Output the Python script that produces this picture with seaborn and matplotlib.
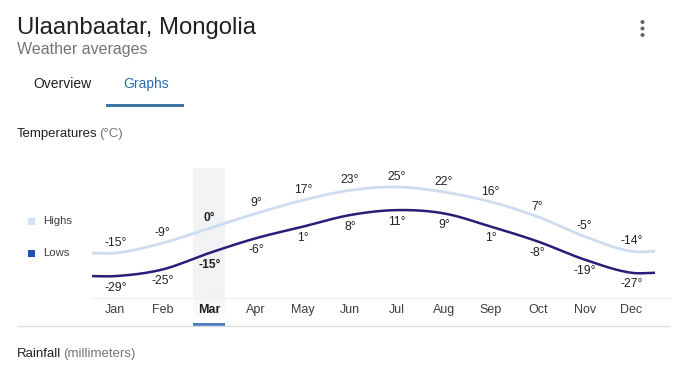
import numpy as np
import pandas as pd
import matplotlib
matplotlib.use("Agg")
import matplotlib.pyplot as plt
from matplotlib.lines import Line2D
from matplotlib.patches import Rectangle, Ellipse
import seaborn as sns

# ---- data ----
months = ["Jan", "Feb", "Mar", "Apr", "May", "Jun", "Jul", "Aug", "Sep", "Oct", "Nov", "Dec"]
highs = [-15, -9, 0, 9, 17, 23, 25, 22, 16, 7, -5, -14]
lows = [-29, -25, -15, -6, 1, 8, 11, 9, 1, -8, -19, -27]
selected = "Mar"

W, H = 686, 375
sns.set_style("white")
plt.rcParams["font.family"] = ["Liberation Sans", "DejaVu Sans"]

fig = plt.figure(figsize=(W / 100, H / 100), dpi=100)

def fx(px):
    return px / W

def fy(py):
    return 1 - py / H

# axes placement (pixels)
ax_l, ax_r, ax_t, ax_b = 92, 655, 160, 297
ax = fig.add_axes([fx(ax_l), fy(ax_b), fx(ax_r - ax_l), (ax_b - ax_t) / H])
ax.set_facecolor("none")
for s in ax.spines.values():
    s.set_visible(False)
ax.set_yticks([])

def smooth(vals):
    xs = np.array([-0.5] + list(range(len(vals))) + [len(vals) - 0.5], dtype=float)
    ys = np.array([vals[0]] + list(vals) + [vals[-1]], dtype=float)
    n = len(xs)
    m = np.zeros(n)
    for i in range(1, n - 1):
        m[i] = (ys[i + 1] - ys[i - 1]) / (xs[i + 1] - xs[i - 1])
    m[1] = (ys[2] - ys[1]) / (xs[2] - xs[1]) * 0.5
    m[-2] = (ys[-2] - ys[-3]) / (xs[-2] - xs[-3]) * 0.5
    out_x, out_y = [], []
    for i in range(n - 1):
        h = xs[i + 1] - xs[i]
        t = np.linspace(0, 1, 25)
        h00 = 2 * t**3 - 3 * t**2 + 1
        h10 = t**3 - 2 * t**2 + t
        h01 = -2 * t**3 + 3 * t**2
        h11 = t**3 - t**2
        out_x.extend(xs[i] + t * h)
        out_y.extend(h00 * ys[i] + h10 * h * m[i] + h01 * ys[i + 1] + h11 * h * m[i + 1])
    return np.array(out_x), np.array(out_y)

hx, hy = smooth(highs)
lx, ly = smooth(lows)
df_h = pd.DataFrame({"x": hx, "t": hy})
df_l = pd.DataFrame({"x": lx, "t": ly})

# selected month band with fading top
si = months.index(selected)
band_w = 0.34
grad = np.ones((100, 1, 4))
base = np.array([241, 243, 244]) / 255
grad[:, 0, :3] = base
alpha = np.clip(np.linspace(0, 1, 100) / 0.2, 0, 1)
grad[:, 0, 3] = alpha[::-1]
y_band_top = (228.25 - 168) / 1.65
y_band_bot = (228.25 - 322) / 1.65
ax.imshow(grad, extent=[si - band_w, si + band_w, y_band_bot, y_band_top],
          aspect="auto", origin="upper", zorder=0, clip_on=False)

sns.lineplot(data=df_h, x="x", y="t", ax=ax, color="#cddcee", linewidth=2.0, zorder=2)
sns.lineplot(data=df_l, x="x", y="t", ax=ax, color="#2a1d78", linewidth=1.8, zorder=3)
ax.set_xlim(-0.5, 11.5)
ax.set_ylim((228.25 - ax_b) / 1.65, (228.25 - ax_t) / 1.65)
ax.set_xlabel("")
ax.set_ylabel("")

for i, (m, hi, lo) in enumerate(zip(months, highs, lows)):
    fw = "bold" if m == selected else "normal"
    ax.annotate(f"{hi}°", (i, hi), xytext=(0, 3), textcoords="offset points",
                ha="center", va="bottom", fontsize=8.7, color="#202124", fontweight=fw)
    ax.annotate(f"{lo}°", (i, lo), xytext=(0, -4), textcoords="offset points",
                ha="center", va="top", fontsize=8.7, color="#202124", fontweight=fw)

ax.set_xticks(range(len(months)))
ax.set_xticklabels(months)
ax.tick_params(axis="x", length=0, pad=5, labelsize=9, labelcolor="#3c4043")
for lbl in ax.get_xticklabels():
    if lbl.get_text() == selected:
        lbl.set_fontweight("bold")
        lbl.set_color("#202124")

# faint baseline and separator
fig.add_artist(Line2D([fx(92), fx(670)], [fy(297.5), fy(297.5)], color="#f0f0f0", lw=1))
fig.add_artist(Line2D([fx(17), fx(670)], [fy(325.5), fy(325.5)], color="#dadce0", lw=1))
# selected month indicator
fig.canvas.draw()
x0 = ax.transData.transform((si - band_w, 0))[0] / W
x1 = ax.transData.transform((si + band_w, 0))[0] / W
fig.add_artist(Rectangle((x0, fy(326)), x1 - x0, 3.5 / H, color="#4f7fc2", lw=0))

# legend
fig.add_artist(Rectangle((fx(28), fy(225)), 7 / W, 7 / H, color="#d2e1f4", lw=0))
fig.add_artist(Rectangle((fx(28), fy(257)), 7 / W, 7 / H, color="#1f55a8", lw=0))
fig.text(fx(43), fy(221.5), "Highs", fontsize=8.2, color="#3c4043", va="center")
fig.text(fx(43), fy(253.5), "Lows", fontsize=8.2, color="#3c4043", va="center")

# header
fig.text(fx(17), fy(34), "Ulaanbaatar, Mongolia", fontsize=17.2, color="#202124", va="baseline")
fig.text(fx(17), fy(54), "Weather averages", fontsize=11.5, color="#70757a", va="baseline")
fig.text(fx(33), fy(88), "Overview", fontsize=10, color="#202124", va="baseline")
fig.text(fx(123), fy(88), "Graphs", fontsize=10, color="#2a6db5", va="baseline")
fig.add_artist(Rectangle((fx(106), fy(107)), 78 / W, 2.5 / H, color="#3f74a3", lw=0))
for yy in (22, 28.5, 35):
    fig.add_artist(Ellipse((fx(642.5), fy(yy)), 4 / W, 4 / H, color="#5f6368", lw=0))

t1 = fig.text(fx(17), fy(137), "Temperatures", fontsize=9.5, color="#202124", va="baseline")
fig.canvas.draw()
plt.annotate("(°C)", xy=(1, 0), xycoords=t1, xytext=(1.4, 0), textcoords="offset points",
             fontsize=9.5, color="#70757a", va="bottom", annotation_clip=False)
t2 = fig.text(fx(17), fy(357), "Rainfall", fontsize=9.5, color="#202124", va="baseline")
plt.annotate("(millimeters)", xy=(1, 0), xycoords=t2, xytext=(1.4, 0), textcoords="offset points",
             fontsize=9.5, color="#70757a", va="bottom", annotation_clip=False)

fig.savefig("out.png", dpi=100)
